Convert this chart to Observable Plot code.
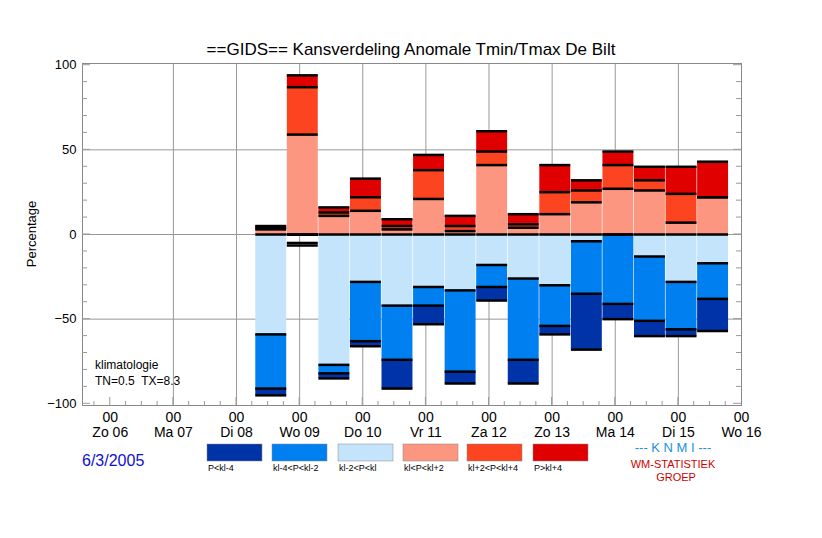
<!DOCTYPE html>
<html><head><meta charset="utf-8">
<script src="https://cdn.jsdelivr.net/npm/d3@7"></script>
<script src="https://cdn.jsdelivr.net/npm/@observablehq/plot@0.6"></script>
<style>body{margin:0;background:#fff;font-family:"Liberation Sans",Arial,sans-serif}</style>
</head><body><div id="c"></div>
<script>
const dayLabels = ["Zo 06","Ma 07","Di 08","Wo 09","Do 10","Vr 11","Za 12","Zo 13","Ma 14","Di 15","Wo 16"];
const barStart = 2.55; // first bar centre, days after Zo 06 00h
const categories = ["P<kl-4","kl-4<P<kl-2","kl-2<P<kl","kl<P<kl+2","kl+2<P<kl+4","P>kl+4"];
const colors = ["#0033a8","#0080f0","#c4e4fc","#fc9680","#fc4420","#e00000"];
// positive stacks (upwards)
const klP2  = [3,59,11,14,3,21,2,41,4,12,19,27,26,7,22];
const klP4  = [1,28,2,8,2,17,3,8,2,13,7,14,6,17,0];
const gtP4  = [1,7,3,11,4,9,6,12,6,16,6,8,8,16,21];
// negative stacks (downwards)
const klM2  = [59,0,77,28,42,31,33,18,26,30,4,0,13,28,17];
const klM4  = [32,0,5,35,32,11,48,13,48,24,31,41,38,28,21];
const ltM4  = [4,0,3,3,17,11,7,8,14,5,33,9,9,4,19];
const extraLine = [{bar:1, y:-5}];

const segs = [], ends = [];
for (let i=0;i<klP2.length;i++){
  const x = barStart + 0.5*i;
  let c = 0;
  [[klP2,3],[klP4,4],[gtP4,5]].forEach(([a,k])=>{segs.push({x1:x-0.245,x2:x+0.245,y1:c,y2:c+a[i],k}); c+=a[i]; ends.push({x1:x-0.245,x2:x+0.245,y:c});});
  c = 0;
  [[klM2,2],[klM4,1],[ltM4,0]].forEach(([a,k])=>{segs.push({x1:x-0.245,x2:x+0.245,y1:c,y2:c-a[i],k}); c-=a[i]; ends.push({x1:x-0.245,x2:x+0.245,y:c});});
  ends.push({x1:x-0.245,x2:x+0.245,y:0});
}
extraLine.forEach(e=>{const x=barStart+0.5*e.bar; ends.push({x1:x-0.245,x2:x+0.245,y:e.y},{x1:x-0.245,x2:x+0.245,y:e.y-1.5});});

const chart = Plot.plot({
  width:822, height:538, marginLeft:82, marginRight:81, marginTop:63, marginBottom:133,
  style:{fontFamily:"Liberation Sans, Arial, sans-serif", fontSize:"13px", color:"#000"},
  x:{type:"linear", domain:[-0.44,10], label:null},
  y:{type:"linear", domain:[-101,101], ticks:[-100,-50,0,50,100], tickSize:0, tickPadding:6, label:null},
  marks:[
    Plot.ruleX(d3.range(1,10),{stroke:"#999",strokeWidth:1}),
    Plot.ruleY([-50,0,50],{stroke:"#999",strokeWidth:1}),
    Plot.rect(segs,{x1:"x1",x2:"x2",y1:"y1",y2:"y2",fill:d=>colors[d.k]}),
    Plot.ruleY(ends,{x1:"x1",x2:"x2",y:"y",stroke:"#000",strokeWidth:2.5}),
    Plot.axisX(d3.range(0,11),{tickFormat:()=>"00", tickSize:0, tickPadding:7, fontSize:14, label:null}),
    Plot.axisX(d3.range(0,11),{tickFormat:d=>dayLabels[d], tickSize:0, tickPadding:22, fontSize:14, label:null}),
    Plot.frame({stroke:"#888"})
  ]
});
const svg = d3.select(chart);
const add=(x,y,t,o={})=>svg.append("text").attr("x",x).attr("y",y).attr("font-size",o.s||13).attr("fill",o.c||"#000").attr("text-anchor",o.a||"start").attr("font-family","Liberation Sans, Arial, sans-serif").text(t);
// minor ticks
const xs=d3.scaleLinear([-0.44,10],[82,741]), ys=d3.scaleLinear([-101,101],[405,63]);
d3.range(-0.25,10,0.25).forEach(d=>{if(d>-0.44)svg.append("line").attr("x1",xs(d)).attr("x2",xs(d)).attr("y1",405).attr("y2",Number.isInteger(d)?397:401).attr("stroke","#999");});
d3.range(-100,101,10).forEach(v=>{const l=v%50===0?8:5;svg.append("line").attr("x1",82).attr("x2",82+l).attr("y1",ys(v)).attr("y2",ys(v)).attr("stroke","#999");svg.append("line").attr("x1",741).attr("x2",741-l).attr("y1",ys(v)).attr("y2",ys(v)).attr("stroke","#999");});
add(411,55,"==GIDS== Kansverdeling Anomale Tmin/Tmax De Bilt",{s:17,a:"middle"});
svg.append("text").attr("transform","translate(36,234) rotate(-90)").attr("text-anchor","middle").attr("font-size",13).attr("font-family","Liberation Sans, Arial, sans-serif").text("Percentage");
add(95,369,"klimatologie",{s:12});
add(95,385,"TN=0.5  TX=8.3",{s:12});
add(82,466,"6/3/2005",{s:16,c:"#1010d0"});
const lx=[207,272,338,403,467,533];
categories.forEach((c,i)=>{svg.append("rect").attr("x",lx[i]).attr("y",444).attr("width",55).attr("height",17).attr("fill",colors[i]).attr("stroke","#888").attr("stroke-width",0.5);add(lx[i]+1,471,c,{s:9});});
add(673,452,"--- K N M I ---",{s:13,c:"#2090e0",a:"middle"});
add(673,468,"WM-STATISTIEK",{s:11,c:"#d00000",a:"middle"});
add(676,481,"GROEP",{s:11,c:"#d00000",a:"middle"});
document.getElementById("c").appendChild(chart);
</script></body></html>
